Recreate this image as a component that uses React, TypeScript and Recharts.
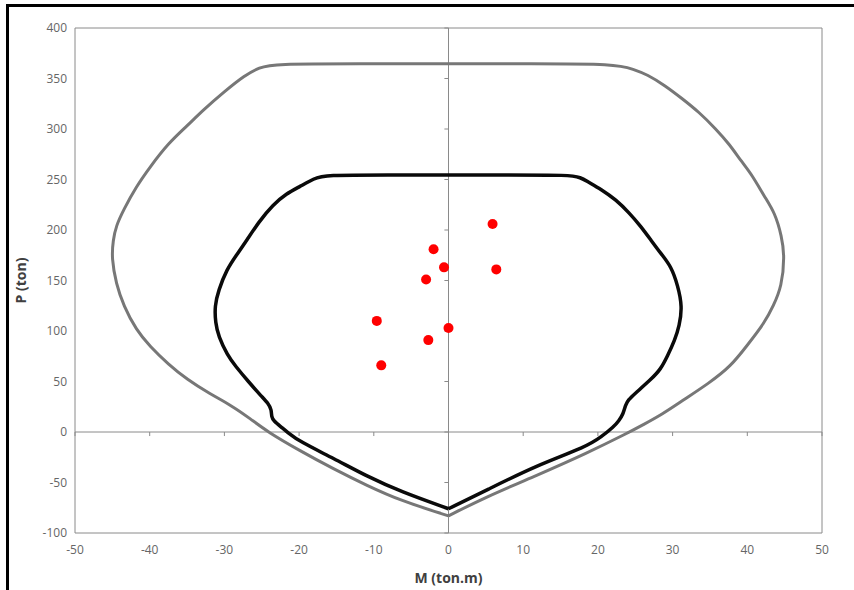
import React from "react";
import {
  ComposedChart,
  Line,
  Scatter,
  XAxis,
  YAxis,
  ReferenceLine,
  ReferenceArea,
} from "recharts";

// Axis ticks
const mTicks = [-50, -40, -30, -20, -10, 0, 10, 20, 30, 40, 50];
const pTicks = [-100, -50, 0, 50, 100, 150, 200, 250, 300, 350, 400];

// Outer interaction curve (gray)
const outerM = [
  0, -6.4, -10.9, -15.4, -19.9, -24.2, -26.5, -29, -32, -35, -37.5, -40, -41.8, -43.5, -44.5, -45.1,
  -44.9, -44.5, -43.5, -41.8, -40, -37.5, -35, -32.8, -30, -27.3, -25.3, -23.4,
  -12, 0, 11, 22.4, 24.8, 26.6, 29, 31.3, 33.5, 35.8, 37.6, 39.2, 40.6, 42.3, 43.7, 44.6, 45.0,
  44.6, 43.5, 42.3, 40, 37.8, 34.8, 31.5, 28.5, 26, 24, 18.5, 11.8, 5.1, 0,
];
const outerP = [
  -83, -68, -53, -36.5, -18.5, 0, 13, 26, 38, 52, 67, 85, 101, 125, 147, 172,
  190, 204, 220, 243, 262, 286, 303, 319, 337, 353, 361, 364.5,
  364.5, 364.5, 364.5, 364.5, 359, 354, 343, 330, 317, 300, 285, 268, 255, 233, 217, 194, 174,
  144, 125, 108, 86, 65, 48, 32, 17, 7, -1, -21, -43, -64, -83,
];

// Inner interaction curve (black)
const innerM = [
  0, -6.4, -10.9, -15.4, -19.9, -21.6, -22.4, -23.4, -23.7, -23.7, -24.1, -25, -26.8, -28.5,
  -29.6, -30.8, -31.2, -31.3, -30.8, -29.7, -28.3, -27, -25.4, -23.5, -21.7, -19.9, -18, -16.6,
  -8, 0, 8, 16.2, 17.7, 18.6, 20.5, 22.4, 24.2, 25.7, 27.1, 28.5, 29.8, 30.7, 31.3, 30.9, 30.3, 29.3,
  28.4, 27.1, 24.8, 24.1, 23.7, 23.4, 22.8, 22.1, 20.5, 18.5, 11.8, 5.1, 0,
];
const innerP = [
  -76, -59, -44, -26, -9.6, 0, 5, 11, 15, 22, 28, 35, 50, 65,
  76, 95, 108, 125, 140, 161, 176, 190, 208, 225, 236, 243, 251, 254.5,
  254.5, 254.5, 254.5, 254.5, 252, 248, 240, 230, 217, 204, 190, 176, 164, 145, 124, 105, 91, 75,
  62, 52, 37, 32, 27, 18, 11, 5, -4.6, -14.6, -33, -57.5, -76,
];

// Load points (red)
const loadM = [5.9, -2.0, -0.6, 6.4, -3.0, -9.6, 0, -2.7, -9.0];
const loadP = [206, 181, 163, 161, 151, 110, 103, 91, 66];

const outer = outerM.map((m, i) => ({ m, p: outerP[i] }));
const inner = innerM.map((m, i) => ({ m, p: innerP[i] }));
const loads = loadM.map((m, i) => ({ m, p: loadP[i] }));

const FONT = "'Open Sans', 'Liberation Sans', sans-serif";
const axisColor = "#8a8a8a";

const RedDot = (props: any) => (
  <circle cx={props.cx} cy={props.cy} r={5} fill="#ff0000" />
);

export default function App() {
  return (
    <div
      style={{
        position: "absolute",
        left: 0,
        top: 0,
        width: 854,
        height: 590,
        background: "#ffffff",
        overflow: "hidden",
      }}
    >
      <div
        style={{
          position: "absolute",
          left: 6,
          top: 4,
          width: 860,
          height: 600,
          borderLeft: "3px solid #000",
          borderTop: "3px solid #000",
          boxSizing: "border-box",
        }}
      />
      <div style={{ position: "absolute", left: 0, top: 0 }}>
        <ComposedChart
          width={854}
          height={590}
          margin={{ top: 28, right: 32, bottom: 27, left: 25 }}
          style={{ fontFamily: FONT }}
        >
          <XAxis
            type="number"
            dataKey="m"
            domain={[-50, 50]}
            ticks={mTicks}
            interval={0}
            allowDataOverflow
            axisLine={false}
            tickLine={false}
            tickSize={0}
            tickMargin={12}
            height={30}
            tick={{ fill: "#666666", fontSize: 12, fontFamily: FONT }}
            label={{
              value: "M (ton.m)",
              position: "insideBottom",
              offset: -20,
              fill: "#404040",
              fontSize: 14,
              fontWeight: 700,
              fontFamily: FONT,
            }}
          />
          <YAxis
            type="number"
            dataKey="p"
            domain={[-100, 400]}
            ticks={pTicks}
            interval={0}
            allowDataOverflow
            axisLine={false}
            tickLine={false}
            tickSize={0}
            tickMargin={8}
            width={50}
            tick={{ fill: "#666666", fontSize: 12, fontFamily: FONT }}
            label={{
              value: "P (ton)",
              angle: -90,
              position: "insideLeft",
              offset: -4,
              fill: "#404040",
              fontSize: 14,
              fontWeight: 700,
              fontFamily: FONT,
              style: { textAnchor: "middle" },
            }}
          />
          <ReferenceArea
            x1={-50}
            x2={50}
            y1={-100}
            y2={400}
            fill="none"
            stroke={axisColor}
            strokeWidth={1}
          />
          <ReferenceLine y={0} stroke={axisColor} strokeWidth={1} />
          <ReferenceLine x={0} stroke={axisColor} strokeWidth={1} />
          {mTicks.map((t) => (
            <ReferenceLine
              key={"mt" + t}
              segment={[
                { x: t, y: 0 },
                { x: t, y: -4 },
              ]}
              stroke={axisColor}
              strokeWidth={1}
            />
          ))}
          {pTicks.map((t) => (
            <ReferenceLine
              key={"pt" + t}
              segment={[
                { x: 0, y: t },
                { x: -0.55, y: t },
              ]}
              stroke={axisColor}
              strokeWidth={1}
            />
          ))}
          <Line
            data={outer}
            dataKey="p"
            type="basis"
            stroke="#777777"
            strokeWidth={3}
            dot={false}
            activeDot={false}
            isAnimationActive={false}
            strokeLinejoin="round"
          />
          <Line
            data={inner}
            dataKey="p"
            type="basis"
            stroke="#0a0a0a"
            strokeWidth={3.5}
            dot={false}
            activeDot={false}
            isAnimationActive={false}
            strokeLinejoin="round"
          />
          <Scatter
            data={loads}
            dataKey="p"
            shape={RedDot}
            isAnimationActive={false}
          />
        </ComposedChart>
      </div>
    </div>
  );
}
